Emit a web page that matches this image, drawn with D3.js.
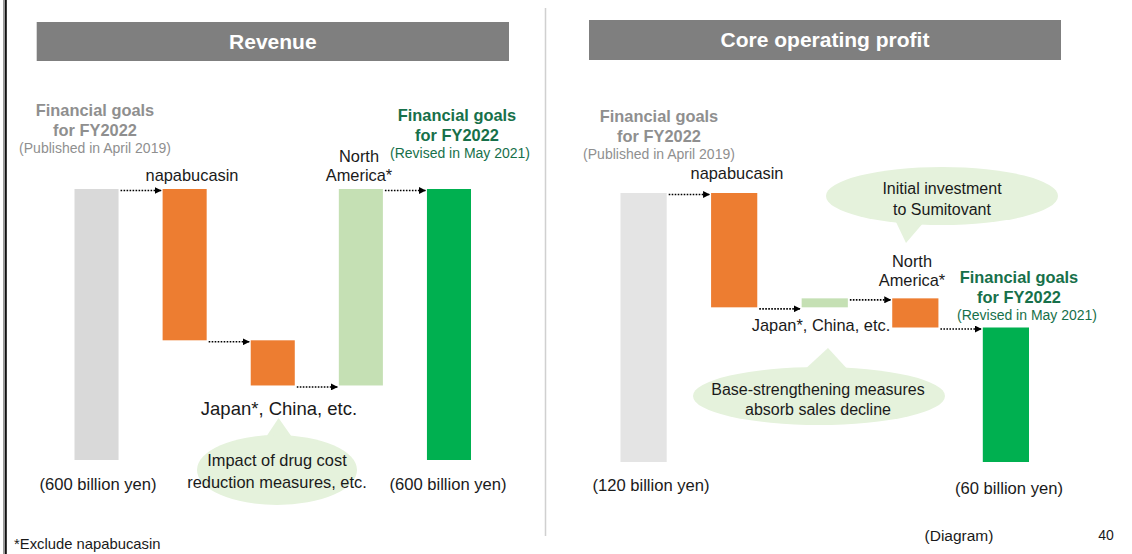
<!DOCTYPE html>
<html>
<head>
<meta charset="utf-8">
<script src="https://cdn.jsdelivr.net/npm/d3@7/dist/d3.min.js"></script>
<style>
  body { margin: 0; background: #fff; }
  svg text { font-family: "Liberation Sans", Arial, sans-serif; }
</style>
</head>
<body>
<div id="chart"></div>
<script>
//----------------------------------------------------------------
// data (billion yen, diagram only)
//----------------------------------------------------------------
var etapes = ["FY2022 (Apr 2019)", "napabucasin", "Japan*, China, etc.", "North America*", "FY2022 (May 2021)"];
var typesEtapes = ["total", "delta", "delta", "delta", "total"];
var revenu = [600, -335, -100, 435, 600];
var profit = [120, -51, 4, -13, 60];

//----------------------------------------------------------------
// svg
//----------------------------------------------------------------
var largeurSvg = 1132, hauteurSvg = 554;
var svg = d3.select("#chart").append("svg")
    .attr("width", largeurSvg)
    .attr("height", hauteurSvg);

svg.append("defs").append("marker")
    .attr("id", "fleche")
    .attr("markerUnits", "userSpaceOnUse")
    .attr("viewBox", "0 0 8 8")
    .attr("refX", 8).attr("refY", 4)
    .attr("markerWidth", 7).attr("markerHeight", 7)
    .attr("orient", "auto")
  .append("path")
    .attr("d", "M0,0L8,4L0,8Z")
    .attr("fill", "#000");

// page borders
svg.append("rect").attr("x", 3).attr("y", 0).attr("width", 2).attr("height", hauteurSvg).attr("fill", "#9a9a9a");
svg.append("rect").attr("x", 5).attr("y", 0).attr("width", 1.8).attr("height", hauteurSvg).attr("fill", "#111");
svg.append("line")
    .attr("x1", 545.5).attr("x2", 545.5).attr("y1", 8).attr("y2", 536)
    .attr("stroke", "#d0d0d0").attr("stroke-width", 1.5);

//----------------------------------------------------------------
// waterfall : computes bars from the values
//----------------------------------------------------------------
function calculeCascade(valeurs) {
    var cumul = 0;
    return valeurs.map(function(v, i) {
        var b;
        if (typesEtapes[i] == "total") { b = {y0: 0, y1: v}; cumul = v; }
        else { b = {y0: cumul, y1: cumul + v}; cumul = cumul + v; }
        b.i = i; b.v = v; b.niveau = cumul;
        return b;
    });
}

function couleurBarre(d, gris) {
    if (d.i == 0) return gris;
    if (d.i == etapes.length - 1) return "#00b050";
    return d.v < 0 ? "#ed7d31" : "#c5e0b4";
}

function dessinePanneau(valeurs, x, y, gris) {
    var data = calculeCascade(valeurs);
    var g = svg.append("g");

    g.selectAll("rect.barre").data(data).enter().append("rect")
        .attr("class", "barre")
        .attr("x", function(d) { return x(d.i); })
        .attr("width", x.bandwidth())
        .attr("y", function(d) { return y(Math.max(d.y0, d.y1)); })
        .attr("height", function(d) { return Math.abs(y(d.y0) - y(d.y1)); })
        .attr("fill", function(d) { return couleurBarre(d, gris); });

    // dotted arrows between bars
    g.selectAll("line.lien").data(data.slice(0, -1)).enter().append("line")
        .attr("class", "lien")
        .attr("x1", function(d) { return x(d.i) + x.bandwidth() + 2; })
        .attr("x2", function(d) { return x(d.i + 1) - 1; })
        .attr("y1", function(d) { return y(d.niveau) + 1.5; })
        .attr("y2", function(d) { return y(d.niveau) + 1.5; })
        .attr("stroke", "#000")
        .attr("stroke-width", 1.6)
        .attr("stroke-dasharray", "1.6,1.4")
        .attr("marker-end", "url(#fleche)");
    return g;
}

function titre(x0, x1, y0, y1, texte) {
    svg.append("rect").attr("x", x0).attr("y", y0)
        .attr("width", x1 - x0).attr("height", y1 - y0)
        .attr("fill", "#7f7f7f");
    svg.append("text").attr("x", (x0 + x1) / 2).attr("y", y0 + 27)
        .attr("text-anchor", "middle").attr("fill", "#fff")
        .attr("font-weight", "bold").attr("font-size", 21)
        .text(texte);
}

function texte(x, y, lignes, taille, couleur, gras) {
    var t = svg.append("text")
        .attr("text-anchor", "middle")
        .attr("font-size", taille)
        .attr("fill", couleur || "#1a1a1a")
        .attr("font-weight", gras ? "bold" : "normal");
    lignes.forEach(function(l) {
        t.append("tspan").attr("x", x).attr("y", l[1]).text(l[0]);
    });
    return t;
}

function bulle(cx, cy, rx, ry, pointe, base) {
    var g = svg.append("g");
    g.append("path")
        .attr("d", "M" + base[0] + "L" + pointe + "L" + base[1] + "Z")
        .attr("fill", "#e5f2dc");
    g.append("ellipse").attr("cx", cx).attr("cy", cy).attr("rx", rx).attr("ry", ry)
        .attr("fill", "#e5f2dc");
}

//----------------------------------------------------------------
// Revenue
//----------------------------------------------------------------
var xR = d3.scaleBand().domain(d3.range(etapes.length)).range([74.5, 471]).paddingInner(0.5).paddingOuter(0);
var yR = d3.scaleLinear().domain([0, 600]).range([460, 189]);

titre(36.7, 509, 22, 61, "Revenue");
bulle(277, 470, 80, 35, [278.6, 418], [[264, 440], [294, 440]]);
dessinePanneau(revenu, xR, yR, "#d9d9d9");

texte(95, 0, [["Financial goals", 116], ["for FY2022", 136]], 16.4, "#8f8f8f", true);
texte(95, 0, [["(Published in April 2019)", 153]], 14, "#8f8f8f");
texte(457, 0, [["Financial goals", 121], ["for FY2022", 141]], 16.4, "#17704a", true);
texte(460, 0, [["(Revised in May 2021)", 158]], 14, "#17704a");
texte(192, 0, [["napabucasin", 181]], 16.4);
texte(359, 0, [["North", 162], ["America*", 181]], 16.4);
texte(279, 0, [["Japan*, China, etc.", 415]], 18.5);
texte(277, 0, [["Impact of drug cost", 466], ["reduction measures, etc.", 488]], 16.4);
texte(98, 0, [["(600 billion yen)", 490]], 16.6);
texte(448, 0, [["(600 billion yen)", 490]], 16.6);
svg.append("text").attr("x", 14).attr("y", 549).attr("font-size", 14.8).attr("fill", "#1a1a1a")
    .text("*Exclude napabucasin");

//----------------------------------------------------------------
// Core operating profit
//----------------------------------------------------------------
var xP = d3.scaleBand().domain(d3.range(etapes.length)).range([620.5, 1029]).paddingInner(0.49).paddingOuter(0);
var yP = d3.scaleLinear().domain([0, 120]).range([462, 193]);

titre(589, 1061, 20, 60, "Core operating profit");
bulle(942, 196, 116, 29, [906, 243], [[896, 222], [924, 222]]);
bulle(819, 396, 126, 29, [828, 348], [[802, 372], [850, 372]]);
dessinePanneau(profit, xP, yP, "#e4e4e4");

texte(659, 0, [["Financial goals", 122], ["for FY2022", 142]], 16.4, "#8f8f8f", true);
texte(659, 0, [["(Published in April 2019)", 159]], 14, "#8f8f8f");
texte(1019, 0, [["Financial goals", 283], ["for FY2022", 303]], 16.4, "#17704a", true);
texte(1027, 0, [["(Revised in May 2021)", 320]], 14, "#17704a");
texte(737, 0, [["napabucasin", 179]], 16.4);
texte(942, 0, [["Initial investment", 194], ["to Sumitovant", 215]], 16);
texte(912, 0, [["North", 267], ["America*", 286]], 16.4);
texte(821, 0, [["Japan*, China, etc.", 331]], 16.4);
texte(818, 0, [["Base-strengthening measures", 395], ["absorb sales decline", 415]], 16);
texte(651, 0, [["(120 billion yen)", 491]], 16.6);
texte(1009, 0, [["(60 billion yen)", 494]], 16.6);
texte(959, 0, [["(Diagram)", 541]], 15.5);
texte(1106, 0, [["40", 540]], 14);
</script>
</body>
</html>
